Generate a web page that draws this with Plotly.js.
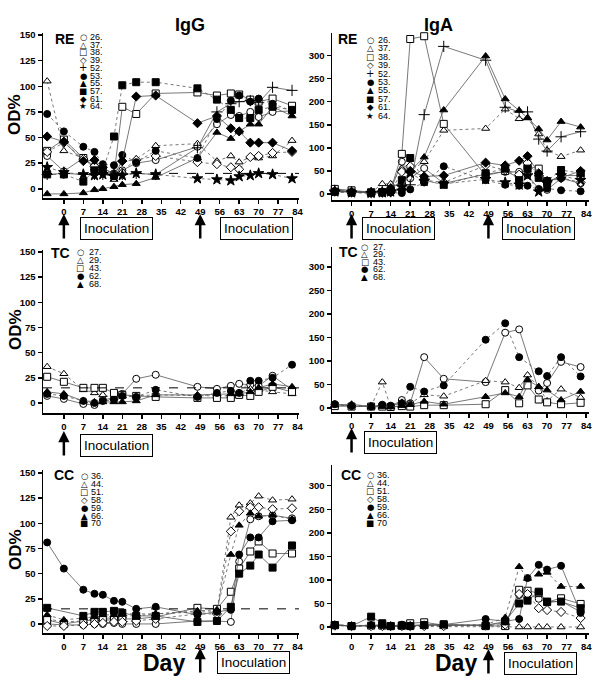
<!DOCTYPE html>
<html><head><meta charset="utf-8">
<script src="https://cdn.plot.ly/plotly-3.0.1.min.js"></script>
<style>body{margin:0;background:#fff}#chart{width:600px;height:683px}</style>
</head><body><div id="chart"></div>
<script>
// ---------------- DATA ----------------
const DAYS = [-6, 0, 7, 11, 14, 18, 21, 26, 33, 48, 55, 60, 63, 67, 70, 75, 82];
const CUTOFF = 15;
const X_TICKS = [0, 7, 14, 21, 28, 35, 42, 49, 56, 63, 70, 77, 84];
const IGG_YTICKS = [0, 25, 50, 75, 100, 125, 150];
const IGA_YTICKS = [0, 50, 100, 150, 200, 250, 300];

const RE_LABELS = ['26.', '37.', '38.', '39.', '52.', '53.', '55.', '57.', '61.', '64.'];
const TC_LABELS = ['27.', '29.', '43.', '62.', '68.'];
const CC_LABELS = ['36.', '44.', '51.', '58.', '59.', '66.', '70'];

// RE - IgG
const reIgG_26 = [32, 17, 30, 22, 20, 15, 18, 25, 28, 41, 63, 72, 71, 75, 70, 75, 76];
const reIgG_37 = [105, 37, 30, 20, 17, 9, 17, 29, 42, 44, 27, 32, 26, 31, 30, 32, 47];
const reIgG_38 = [37, 48, 30, 20, 18, 13, 80, 73, 93, 94, 91, 93, 92, 87, 85, 88, 81];
const reIgG_39 = [36, 45, 29, 22, 15, 14, 27, 28, 32, 26, 24, 21, 19, 31, 32, 35, 36];
const reIgG_52 = [14, 15, 14, 14, 14, 14, 14, 15, 14, 40, 75, 83, 85, 86, 84, 99, 96];
const reIgG_53 = [73, 56, 41, 36, 24, 23, 33, 26, 37, 30, 68, 86, 91, 85, 88, 83, 76];
const reIgG_55 = [-5, -5, -4, -1, 0, 2, 4, 5, 11, 30, 55, 49, 56, 63, 63, 80, 71];
const reIgG_57 = [14, 14, 7, 18, 18, 51, 101, 104, 104, 98, 87, 77, 69, 69, 77, 80, 77];
const reIgG_61 = [51, 46, 27, 28, 21, 13, 27, 90, 91, 64, 71, 59, 56, 45, 45, 45, 37];
const reIgG_64 = [21, 16, 14, 13, 14, 12, 13, 15, 14, 10, 9, 8, 12, 13, 15, 14, 10];

// RE - IgA
const reIgA_26 = [7, 5, 3, 5, 8, 70, 34, 56, 23, 43, 48, 48, 41, 11, 9, 34, 23];
const reIgA_37 = [8, 5, 3, 22, 22, 55, 50, 70, 138, 142, 184, 163, 165, 130, 95, 81, 95];
const reIgA_38 = [11, 8, 4, 4, 8, 87, 336, 342, 152, 40, 50, 35, 60, 55, 25, 40, 40];
const reIgA_39 = [5, 5, 3, 5, 5, 48, 60, 30, 25, 62, 52, 42, 67, 40, 25, 35, 25];
const reIgA_52 = [8, 5, 3, 5, 5, 10, 20, 172, 320, 290, 188, 178, 178, 119, 93, 124, 135];
const reIgA_53 = [6, 3, 2, 3, 3, 2, 10, 25, 60, 30, 20, 18, 18, 10, 12, 8, 6];
const reIgA_55 = [5, 4, 3, 5, 15, 25, 50, 80, 182, 299, 206, 181, 165, 141, 117, 157, 145];
const reIgA_57 = [5, 3, 2, 4, 8, 30, 78, 30, 20, 45, 55, 30, 55, 35, 28, 52, 45];
const reIgA_61 = [6, 4, 3, 3, 4, 10, 50, 38, 40, 68, 62, 72, 82, 45, 28, 35, 50];
const reIgA_64 = [5, 3, 2, 3, 5, 15, 45, 28, 22, 32, 25, 20, 40, 5, 25, 40, 30];

// TC - IgG
const tcIgG_27 = [7, 4, -1, -2, 3, 5, 9, 24, 28, 16, 14, 17, 19, 18, 17, 27, 13];
const tcIgG_29 = [36, 29, 13, 10, 8, 5, 7, 7, 8, 7, 7, 7, 10, 14, 13, 11, 9];
const tcIgG_43 = [26, 21, 15, 15, 15, 10, 8, 7, 6, 5, 5, 5, 8, 7, 11, 16, 11];
const tcIgG_62 = [9, 7, 2, 0, 2, 3, 7, 6, 13, 6, 10, 12, 10, 22, 22, 25, 38];
const tcIgG_68 = [11, 9, 2, 1, 1, 1, 1, 2, 8, 8, 9, 9, 9, 11, 15, 19, 16];

// TC - IgA
const tcIgA_27 = [8, 4, 4, 5, 3, 17, 10, 108, 62, 55, 160, 167, null, 37, 53, 98, 87];
const tcIgA_29 = [6, 5, 4, 55, 3, 12, 10, 28, 25, 58, 55, 43, 70, 45, 15, 40, 22];
const tcIgA_43 = [4, 3, 3, 3, 2, 4, 3, 6, 6, 8, 38, 10, 48, 18, 12, 8, 11];
const tcIgA_62 = [8, 4, 3, 7, 5, 10, 45, 35, 48, 145, 180, 108, null, 78, 68, 108, 67];
const tcIgA_68 = [6, 8, 3, 3, 2, 5, 7, 14, 8, 24, 32, 24, 60, 45, 38, 17, 35];

// CC - IgG
const ccIgG_36 = [0, -1, -1, 0, 0, 1, 0, 0, 0, 3, 3, 2, 62, 104, 107, 108, 105];
const ccIgG_44 = [5, 2, 3, 5, 5, 7, 8, 8, 10, 12, 12, 106, 118, 120, 127, 123, 124];
const ccIgG_51 = [4, 0, 3, 4, 4, 4, 5, 5, 7, 16, 15, 32, 55, 72, 82, 70, 70];
const ccIgG_58 = [-2, -2, -1, 0, 1, 2, 2, 3, 5, 10, 10, 92, 112, 116, 116, 114, 115];
const ccIgG_59 = [81, 55, 34, 30, 29, 23, 22, 15, 17, 9, 12, 14, 69, 86, 86, 102, 103];
const ccIgG_66 = [9, 4, 6, 7, 9, 9, 10, 10, 10, 13, 14, 69, 98, 110, 107, 108, 104];
const ccIgG_70 = [16, null, 8, 12, 12, 13, 11, 8, 8, 2, 3, 17, 50, 58, 69, 56, 78];

// CC - IgA
const ccIgA_36 = [5, 2, 3, 3, 2, 4, 3, 4, 3, 5, 8, 68, 70, 60, 52, 55, 32];
const ccIgA_44 = [3, 2, 2, 2, 1, 1, 1, 1, 1, 0, 0, 0, 0, 0, 0, 0, 0];
const ccIgA_51 = [4, 2, 3, 3, 2, 3, 8, 10, 4, 2, 2, 79, 77, 72, 53, 61, 49];
const ccIgA_58 = [3, 2, 2, 2, 2, 2, 2, 2, 2, 3, 5, 70, 70, 40, 36, 32, 19];
const ccIgA_59 = [5, 2, 4, 4, 2, 5, 3, 5, 5, 17, 12, 17, 104, 132, 122, 130, 30];
const ccIgA_66 = [5, 3, 4, 4, 2, 3, 3, 3, 4, 5, 20, 128, 103, 112, 116, 86, 86];
const ccIgA_70 = [4, 2, 22, 8, 2, 3, 2, 4, 6, 3, 12, 50, 56, 75, 54, 54, 40];

// ---------------- STYLES ----------------
const W = 600, H = 683;
const px = x => x / W, py = y => 1 - y / H;

const STY = {
  oc: {symbol: 'circle', fill: 'white', glyph: '\u25CB'},
  ot: {symbol: 'triangle-up', fill: 'white', glyph: '\u25B3'},
  os: {symbol: 'square', fill: 'white', glyph: '\u25A1'},
  od: {symbol: 'diamond', fill: 'white', glyph: '\u25C7'},
  pl: {symbol: 'cross-thin', fill: 'black', glyph: '+'},
  fc: {symbol: 'circle', fill: 'black', glyph: '\u25CF'},
  ft: {symbol: 'triangle-up', fill: 'black', glyph: '\u25B2'},
  fs: {symbol: 'square', fill: 'black', glyph: '\u25A0'},
  fd: {symbol: 'diamond', fill: 'black', glyph: '\u25C6'},
  st: {symbol: 'star', fill: 'black', glyph: '\u2605'}
};
const RE_STY = ['oc', 'ot', 'os', 'od', 'pl', 'fc', 'ft', 'fs', 'fd', 'st'];
const TC_STY = ['oc', 'ot', 'os', 'fc', 'ft'];
const CC_STY = ['oc', 'ot', 'os', 'od', 'fc', 'ft', 'fs'];

const LX = [43, 299], RX = [332, 589];
// inoc entries: [arrow day, box centre x (px), box centre y (px)]
const panels = [
  {n: '', xd: LX, yd: [33, 198], xr: [-7.5, 84.5], yr: [-9, 152], yt: IGG_YTICKS, tag: 'RE', labels: RE_LABELS, sty: RE_STY,
   data: [reIgG_26, reIgG_37, reIgG_38, reIgG_39, reIgG_52, reIgG_53, reIgG_55, reIgG_57, reIgG_61, reIgG_64],
   cutoff: true, tagPos: [53, 39], leg: [83, 88, 37, 7.7], inoc: [[0, 116, 228], [49, 256, 228]], odY: 115},
  {n: '2', xd: RX, yd: [33, 200], xr: [-7, 85], yr: [-13, 349], yt: IGA_YTICKS, tag: 'RE', labels: RE_LABELS, sty: RE_STY,
   data: [reIgA_26, reIgA_37, reIgA_38, reIgA_39, reIgA_52, reIgA_53, reIgA_55, reIgA_57, reIgA_61, reIgA_64],
   cutoff: false, tagPos: [336, 39], leg: [370, 376, 40, 8.4], inoc: [[0, 398, 228], [49, 538, 228]]},
  {n: '3', xd: LX, yd: [250, 413], xr: [-7.5, 84.5], yr: [-10, 152], yt: IGG_YTICKS, tag: 'TC', labels: TC_LABELS, sty: TC_STY,
   data: [tcIgG_27, tcIgG_29, tcIgG_43, tcIgG_62, tcIgG_68],
   cutoff: true, tagPos: [49, 253], leg: [80, 87, 252, 8], inoc: [[0, 116, 445]], odY: 330},
  {n: '4', xd: RX, yd: [247, 412], xr: [-7, 85], yr: [-8.5, 342], yt: IGA_YTICKS, tag: 'TC', labels: TC_LABELS, sty: TC_STY,
   data: [tcIgA_27, tcIgA_29, tcIgA_43, tcIgA_62, tcIgA_68],
   cutoff: false, tagPos: [337, 252], leg: [365, 371, 247, 7.4], inoc: [[0, 400, 442]]},
  {n: '5', xd: LX, yd: [470, 633], xr: [-7.5, 84.5], yr: [-9, 153], yt: IGG_YTICKS, tag: 'CC', labels: CC_LABELS, sty: CC_STY,
   data: [ccIgG_36, ccIgG_44, ccIgG_51, ccIgG_58, ccIgG_59, ccIgG_66, ccIgG_70],
   cutoff: true, tagPos: [52, 475], leg: [84, 89, 476, 7.9], inoc: [[49, 253, 662]], odY: 550, day: 164},
  {n: '6', xd: RX, yd: [465, 633], xr: [-7, 85], yr: [-12.7, 344], yt: IGA_YTICKS, tag: 'CC', labels: CC_LABELS, sty: CC_STY,
   data: [ccIgA_36, ccIgA_44, ccIgA_51, ccIgA_58, ccIgA_59, ccIgA_66, ccIgA_70],
   cutoff: false, tagPos: [339, 475], leg: [370, 375, 475, 8], inoc: [[49, 540, 663]], day: 456}
];

const traces = [];
const layout = {
  width: W, height: H, margin: {l: 0, r: 0, t: 0, b: 0},
  paper_bgcolor: 'white', plot_bgcolor: 'white', showlegend: false,
  font: {family: 'Liberation Sans, Arial, sans-serif', color: 'black'},
  annotations: [], shapes: []
};

const TICKFONT = {family: 'Liberation Sans, Arial, sans-serif', size: 9.5, weight: 'bold', color: 'black'};
const DASHES = ['solid', 'dot', 'solid', 'dot', 'solid', 'dot', 'solid', 'dot', 'solid', 'dot'];

panels.forEach(p => {
  const xk = 'xaxis' + p.n, yk = 'yaxis' + p.n;
  const xa = 'x' + p.n, ya = 'y' + p.n;
  layout[xk] = {
    domain: [px(p.xd[0]), px(p.xd[1])], range: p.xr, anchor: ya,
    showline: true, linecolor: 'black', linewidth: 1.5, ticks: 'outside', ticklen: 4, tickwidth: 1.5,
    tickcolor: 'black', tickvals: X_TICKS, showgrid: false, zeroline: false, tickfont: TICKFONT, fixedrange: true
  };
  layout[yk] = {
    domain: [py(p.yd[1]), py(p.yd[0])], range: p.yr, anchor: xa,
    showline: true, linecolor: 'black', linewidth: 1.5, ticks: 'outside', ticklen: 4, tickwidth: 1.5,
    tickcolor: 'black', tickvals: p.yt, showgrid: false, zeroline: false, tickfont: TICKFONT, fixedrange: true
  };
  p.data.forEach((vals, i) => {
    const s = STY[p.sty[i]];
    const isPlus = s.symbol === 'cross-thin';
    traces.push({
      type: 'scatter', mode: 'lines+markers', x: DAYS, y: vals, xaxis: xa, yaxis: ya,
      connectgaps: true, name: p.labels[i], cliponaxis: false,
      line: {color: '#555', width: 0.8, dash: DASHES[i]},
      marker: {symbol: s.symbol, size: isPlus ? 8 : (s.symbol === 'star' ? 8 : 7),
               color: s.fill, line: {color: 'black', width: 1}}
    });
  });
  if (p.cutoff) {
    layout.shapes.push({type: 'line', xref: xa + ' domain', x0: 0, x1: 1, yref: ya, y0: CUTOFF, y1: CUTOFF,
      line: {color: 'black', width: 1, dash: 'dash'}});
  }
  // panel tag
  layout.annotations.push({xref: 'paper', yref: 'paper', x: px(p.tagPos[0]), y: py(p.tagPos[1]), xanchor: 'left', yanchor: 'middle',
    text: '<b>' + p.tag + '</b>', showarrow: false, font: {size: 14, family: 'Liberation Sans, Arial, sans-serif'}});
  // inline legend
  const [sx, tx, y0, dy] = p.leg;
  p.labels.forEach((lab, i) => {
    const s = STY[p.sty[i]];
    layout.annotations.push({xref: 'paper', yref: 'paper', x: px(sx), y: py(y0 + i * dy), xanchor: 'center', yanchor: 'middle',
      text: s.glyph, showarrow: false, font: {size: s.glyph === '+' ? 10 : 8.5, family: 'DejaVu Sans'}});
    layout.annotations.push({xref: 'paper', yref: 'paper', x: px(tx), y: py(y0 + i * dy), xanchor: 'left', yanchor: 'middle',
      text: lab, showarrow: false, font: {size: 9, family: 'Liberation Sans Narrow, Liberation Sans, Arial, sans-serif'}});
  });
  // inoculation arrows + boxes
  p.inoc.forEach(([day, bx, yc]) => {
    layout.annotations.push({xref: xa, yref: 'paper', x: day, y: py(yc - 14), text: '', showarrow: true,
      arrowhead: 2, arrowsize: 0.9, arrowwidth: 2.5, arrowcolor: 'black', ax: 0, ay: 26});
    layout.annotations.push({xref: 'paper', yref: 'paper', x: px(bx), y: py(yc), xanchor: 'center', yanchor: 'middle',
      text: 'Inoculation', showarrow: false, bordercolor: 'black', borderwidth: 1, borderpad: 3,
      font: {size: 13.5, family: 'Liberation Sans, Arial, sans-serif'}});
  });
  if (p.odY) {
    layout.annotations.push({xref: 'paper', yref: 'paper', x: px(15), y: py(p.odY), textangle: -90, xanchor: 'center', yanchor: 'middle',
      text: '<b>OD%</b>', showarrow: false, font: {size: 17}});
  }
  if (p.day) {
    layout.annotations.push({xref: 'paper', yref: 'paper', x: px(p.day), y: py(663), xanchor: 'center', yanchor: 'middle',
      text: '<b>Day</b>', showarrow: false, font: {size: 23}});
  }
});

layout.annotations.push({xref: 'paper', yref: 'paper', x: px(173), y: py(13), text: '<b>IgG</b>', showarrow: false, font: {size: 18}});
layout.annotations.push({xref: 'paper', yref: 'paper', x: px(455), y: py(13), text: '<b>IgA</b>', showarrow: false, font: {size: 18}});

Plotly.newPlot('chart', traces, layout, {staticPlot: true});
</script></body></html>
